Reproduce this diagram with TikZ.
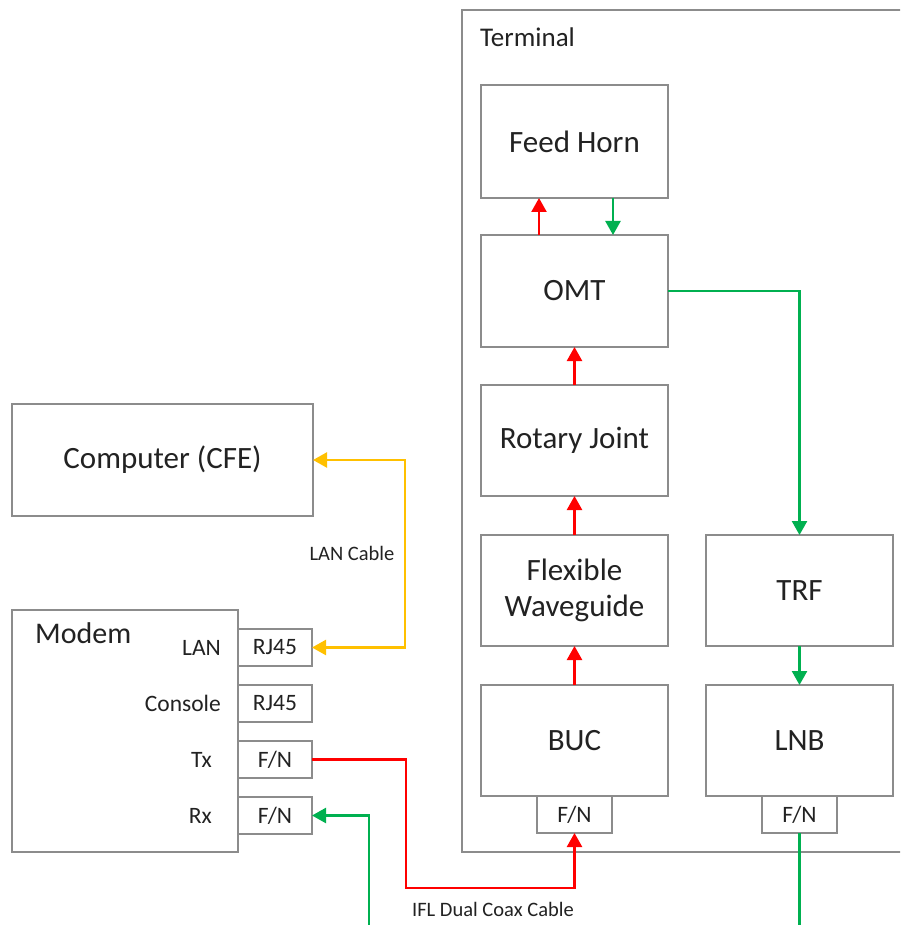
\documentclass[tikz,border=0pt]{standalone}
\usepackage{fontspec}
\setmainfont{Carlito}
\usetikzlibrary{arrows.meta,calc}
\definecolor{boxgray}{HTML}{8C8C8C}
\definecolor{txtc}{HTML}{222222}
\definecolor{txred}{HTML}{FF0000}
\definecolor{rxgreen}{HTML}{00B050}
\definecolor{lanyel}{HTML}{FFC000}
\tikzset{
  blk/.style={draw=boxgray,line width=1.3pt,rectangle,inner sep=0pt,outer sep=0pt,
    minimum width=187pt,minimum height=112pt,text=txtc,font=\fontsize{31}{36}\selectfont,align=center},
  port/.style={draw=boxgray,line width=1.3pt,rectangle,inner sep=0pt,outer sep=0pt,
    minimum width=75pt,minimum height=37pt,text=txtc,font=\fontsize{23.5}{28}\selectfont},
  plabel/.style={inner sep=0pt,text=txtc,font=\fontsize{23.5}{28}\selectfont,anchor=base east},
  clabel/.style={inner sep=0pt,text=txtc,font=\fontsize{20.5}{24}\selectfont},
  sig/.style={line width=2.4pt,-{Triangle[length=14pt,width=15pt]}},
  redsig/.style={sig,draw=txred,color=txred},
  greensig/.style={sig,draw=rxgreen,color=rxgreen},
}
\begin{document}
\begin{tikzpicture}[x=1pt,y=-1pt]
\useasboundingbox (0,0) rectangle (900,925);
\clip (0,0) rectangle (900,925);
\fill[white] (0,0) rectangle (900,925);
% Terminal frame
\draw[boxgray,line width=1.3pt] (910,10) -- (462,10) -- (462,852) -- (910,852);
\node[inner sep=0pt,text=txtc,font=\fontsize{27}{32}\selectfont,anchor=base west] (termlbl) at (480,47) {Terminal};
% Terminal blocks
\node[blk,minimum height=113pt] (feed) at (574.5,141.5) {Feed Horn};
\node[blk] (omt) at (574.5,291) {OMT};
\node[blk,minimum height=111pt] (rot) at (574.5,440.5) {Rotary Joint};
\node[blk,minimum height=111pt] (flex) at (574.5,590.5) {Flexible\\Waveguide};
\node[blk,minimum height=111pt] (buc) at (574.5,740.5) {BUC};
\node[port] (bucfn) at (574.5,814.5) {F/N};
\node[blk,minimum height=111pt] (trf) at (799.5,590.5) {TRF};
\node[blk,minimum height=111pt] (lnb) at (799.5,740.5) {LNB};
\node[port] (lnbfn) at (799.5,814.5) {F/N};
% Computer and modem
\node[blk,minimum width=301pt] (comp) at (162.5,460) {Computer (CFE)};
\node[blk,minimum width=226pt,minimum height=242pt] (modem) at (125,731) {};
\node[inner sep=0pt,text=txtc,font=\fontsize{30}{36}\selectfont,anchor=base west] (modemlbl) at (35,643) {Modem};
\node[port,minimum width=74pt] (lanport) at (275,647.5) {RJ45};
\node[port,minimum width=74pt] (conport) at (275,703.5) {RJ45};
\node[port,minimum width=74pt] (txport) at (275,759.5) {F/N};
\node[port,minimum width=74pt] (rxport) at (275,815.5) {F/N};
\node[plabel] (lanlbl) at (221,655) {LAN};
\node[plabel] (conlbl) at (221,711) {Console};
\node[plabel] (txlbl) at (212,767) {Tx};
\node[plabel] (rxlbl) at (212,823) {Rx};
% Internal signal arrows
\draw[redsig] ([xshift=-35.5pt]omt.north) -- ([xshift=-35.5pt]feed.south);
\draw[greensig] ([xshift=38.5pt]feed.south) -- ([xshift=38.5pt]omt.north);
\draw[redsig] (rot.north) -- (omt.south);
\draw[redsig] (flex.north) -- (rot.south);
\draw[redsig] (buc.north) -- (flex.south);
\draw[greensig] (omt.east) -| (trf.north);
\draw[greensig] (trf.south) -- (lnb.north);
% LAN cable
\coordinate (lanx) at (405,553);
\draw[line width=2.4pt,draw=lanyel,color=lanyel,{Triangle[length=14pt,width=15pt]}-{Triangle[length=14pt,width=15pt]}] (comp.east) -| (lanx) |- (lanport.east);
\node[clabel] (lancab) at (352,553) {LAN Cable};
% IFL cable
\coordinate (txlow) at (406,888);
\draw[redsig] (txport.east) -| (txlow) -| (bucfn.south);
\coordinate (rxin) at (369,940);
\draw[greensig] (rxin) |- (rxport.east);
\coordinate (lnbout) at (799.5,940);
\draw[rxgreen,line width=2.4pt] (lnbfn.south) -- (lnbout);
\node[clabel] (iflcab) at (493,909) {IFL Dual Coax Cable};
\end{tikzpicture}
\end{document}
